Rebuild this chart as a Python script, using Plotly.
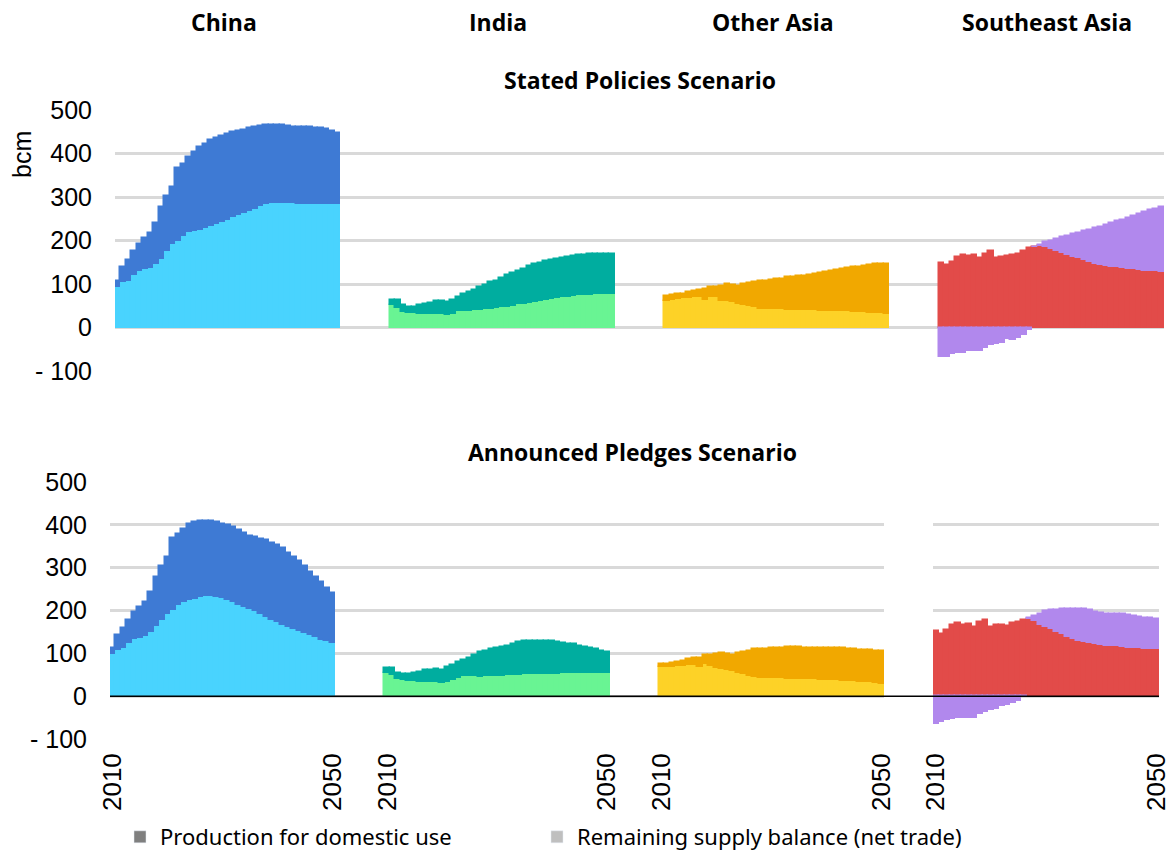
import plotly.graph_objects as go

W, H = 1175, 855

years = list(range(2010, 2051))
regions = ["China", "India", "Other Asia", "Southeast Asia"]

# Stated Policies Scenario (bcm)
china_prod_steps = [94, 104, 108, 120, 131, 134, 137, 147, 158, 175, 191, 199, 211, 220, 222, 225, 229, 233, 237, 243, 248,
                    253, 258, 263, 268, 273, 279, 283, 286, 286, 286, 286, 286, 285, 285, 285, 285, 284, 284, 284, 284]
china_trade_steps = [14, 35, 48, 56, 62, 72, 81, 94, 119, 127, 132, 168, 166, 172, 182, 189, 194, 198, 199, 198, 197,
                     196, 194, 192, 190, 187, 184, 182, 180, 179, 179, 177, 176, 176, 176, 175, 174, 174, 172, 168, 162]
india_prod_steps = [51, 45, 35, 33, 33, 30, 30, 32, 32, 30, 28, 32, 37, 39, 39, 40, 40, 43, 43, 44, 46,
                    48, 50, 53, 55, 57, 59, 61, 63, 66, 68, 69, 71, 72, 74, 75, 75, 76, 76, 76, 76]
india_trade_steps = [13, 18, 17, 15, 15, 21, 24, 25, 28, 32, 30, 32, 33, 37, 42, 47, 53, 55, 61, 64, 68,
                     72, 75, 77, 80, 84, 86, 87, 89, 89, 90, 91, 91, 92, 92, 92, 93, 93, 94, 94, 94]
oasia_prod_steps = [62, 64, 65, 67, 68, 69, 70, 64, 70, 69, 62, 60, 58, 55, 52, 49, 47, 43, 43, 42, 42,
                    42, 41, 41, 41, 40, 40, 40, 39, 39, 38, 38, 37, 37, 36, 36, 35, 34, 34, 33, 32]
oasia_trade_steps = [10, 10, 11, 11, 13, 15, 17, 25, 23, 24, 33, 41, 39, 40, 47, 53, 58, 64, 65, 68, 69,
                     70, 74, 75, 77, 78, 81, 83, 86, 89, 92, 94, 97, 99, 102, 103, 107, 110, 111, 112, 114]
sea_prod_steps = [148, 143, 151, 163, 167, 165, 166, 160, 170, 176, 160, 162, 165, 166, 170, 176, 183, 185, 187, 185, 180,
                  176, 172, 166, 162, 159, 155, 151, 147, 143, 141, 140, 138, 137, 135, 134, 132, 131, 131, 129, 128]
sea_trade_steps = [-68, -67, -61, -59, -58, -55, -55, -54, -46, -41, -37, -35, -27, -29, -23, -18, -6, 0, 3, 11, 20,
                   28, 36, 45, 52, 59, 66, 74, 82, 89, 95, 100, 106, 111, 117, 122, 129, 134, 138, 144, 149]

# Announced Pledges Scenario (bcm)
china_prod_aps = [98, 108, 112, 123, 133, 136, 140, 149, 164, 177, 193, 202, 213, 221, 225, 228, 232, 235, 233, 231, 229,
                  224, 219, 213, 208, 203, 199, 192, 184, 177, 172, 167, 162, 157, 152, 147, 142, 137, 132, 128, 123]
china_trade_aps = [14, 35, 47, 55, 63, 73, 80, 94, 114, 128, 132, 167, 165, 170, 177, 179, 178, 175, 175, 176, 174,
                   175, 176, 176, 173, 171, 172, 176, 181, 180, 181, 179, 172, 167, 163, 156, 148, 141, 134, 125, 117]
india_prod_aps = [53, 49, 41, 38, 36, 36, 33, 33, 34, 34, 30, 33, 38, 43, 46, 46, 46, 45, 47, 48, 48,
                  48, 49, 50, 50, 51, 51, 51, 52, 52, 52, 52, 53, 53, 54, 54, 54, 55, 55, 55, 55]
india_trade_aps = [12, 16, 14, 13, 15, 17, 24, 27, 28, 30, 31, 34, 34, 37, 39, 44, 50, 57, 58, 61, 65,
                   67, 69, 72, 76, 77, 78, 78, 77, 77, 76, 75, 72, 69, 67, 64, 61, 58, 54, 50, 48]
oasia_prod_aps = [67, 68, 69, 70, 71, 72, 73, 67, 74, 71, 65, 64, 62, 59, 55, 52, 48, 45, 43, 43, 42,
                  42, 42, 41, 41, 41, 40, 40, 39, 38, 38, 37, 37, 36, 35, 35, 34, 33, 32, 31, 29]
oasia_trade_aps = [7, 8, 9, 10, 12, 14, 15, 23, 21, 25, 33, 37, 37, 37, 46, 52, 57, 64, 68, 68, 70,
                   70, 71, 73, 73, 73, 73, 73, 73, 74, 74, 76, 76, 76, 75, 74, 74, 75, 75, 74, 76]
sea_prod_aps = [152, 146, 154, 166, 170, 167, 169, 162, 173, 177, 162, 165, 165, 163, 171, 174, 178, 181, 175, 167, 161,
                156, 150, 144, 139, 133, 129, 126, 123, 121, 119, 118, 117, 116, 115, 113, 113, 112, 111, 111, 111]
sea_trade_aps = [-64, -61, -56, -54, -52, -51, -50, -50, -42, -36, -33, -29, -23, -20, -16, -11, -3, 2, 12, 25, 37,
                 45, 52, 60, 65, 71, 75, 77, 79, 76, 76, 75, 75, 75, 76, 77, 75, 73, 72, 71, 70]

prod_colors = ["#49D3FE", "#69F493", "#FDD227", "#E24B49"]
trade_colors = ["#3E7AD4", "#00AD9F", "#F1A800", "#B188ED"]

y_ticks = [-100, 0, 100, 200, 300, 400, 500]
y_ticktext = ["- 100", "0", "100", "200", "300", "400", "500"]

legend_names = ["Production for domestic use", "Remaining supply balance (net trade)"]
legend_colors = ["#7F7F7F", "#BFBFBF"]

GAP = 9                    # empty slots between regional blocks
BLOCK = len(years) + GAP   # slot pitch of one region

GRID = "#D9D9D9"
TICK_FONT = dict(family="Liberation Sans, Arial, sans-serif", size=25, color="#000000")
BOLD_FONT = dict(family="Open Sans, sans-serif", size=23, color="#000000")
LEGEND_FONT = dict(family="Noto Sans, sans-serif", size=22, color="#000000")


def px_x(p):
    return p / W


def px_y(p):
    return 1 - p / H


steps = [(china_prod_steps, china_trade_steps), (india_prod_steps, india_trade_steps),
         (oasia_prod_steps, oasia_trade_steps), (sea_prod_steps, sea_trade_steps)]
aps = [(china_prod_aps, china_trade_aps), (india_prod_aps, india_trade_aps),
       (oasia_prod_aps, oasia_trade_aps), (sea_prod_aps, sea_trade_aps)]

fig = go.Figure()


def add_region(prod, trade, r, offset, xa, ya):
    xs = [offset + i for i in range(len(years))]
    for vals, col in ((prod, prod_colors[r]), (trade, trade_colors[r])):
        fig.add_trace(go.Bar(
            x=xs, y=vals, xaxis=xa, yaxis=ya, width=1.0,
            marker=dict(color=col, line=dict(color=col, width=1.5)),
            showlegend=False, hoverinfo="skip",
        ))


# top row: one shared axis for all four regions
for r, (p, t) in enumerate(steps):
    add_region(p, t, r, r * BLOCK, "x", "y")

# bottom row: China, India, Other Asia on one axis, Southeast Asia on its own
for r, (p, t) in enumerate(aps[:3]):
    add_region(p, t, r, r * BLOCK, "x2", "y2")
add_region(aps[3][0], aps[3][1], 3, 0, "x3", "y3")

# legend entries, each in its own legend box
for k, (name, col) in enumerate(zip(legend_names, legend_colors)):
    fig.add_trace(go.Bar(x=[None], y=[None], name=name, marker=dict(color=col),
                         xaxis="x", yaxis="y", legend="legend" if k == 0 else "legend2"))

n = len(years)
top_range = [-0.5, 3 * BLOCK + n - 0.5]
bl_range = [-0.5, 2 * BLOCK + n - 0.5]
br_range = [-0.5, n - 0.5]

yaxis_common = dict(range=[-100, 500], tickvals=y_ticks, ticktext=y_ticktext, tickfont=TICK_FONT,
                    showgrid=True, gridcolor=GRID, gridwidth=2.5, zeroline=False, showline=False,
                    ticks="", ticklabelstandoff=22, fixedrange=True, automargin=False)

bl_tickvals, bl_ticktext = [], []
for r in range(3):
    bl_tickvals += [r * BLOCK, r * BLOCK + n - 1]
    bl_ticktext += [str(years[0]), str(years[-1])]

legend_common = dict(orientation="h", xanchor="left", y=px_y(837), yanchor="middle",
                     font=LEGEND_FONT, bgcolor="rgba(0,0,0,0)")

fig.update_layout(
    width=W, height=H,
    margin=dict(l=0, r=0, t=0, b=0, autoexpand=False),
    paper_bgcolor="white", plot_bgcolor="white",
    barmode="relative", bargap=0,
    xaxis=dict(domain=[px_x(115), px_x(1164)], range=top_range, anchor="y",
               showticklabels=False, showgrid=False, zeroline=False, ticks="", automargin=False),
    yaxis=dict(domain=[px_y(371), px_y(110)], anchor="x", **yaxis_common),
    xaxis2=dict(domain=[px_x(110), px_x(884)], range=bl_range, anchor="y2",
                tickvals=bl_tickvals, ticktext=bl_ticktext, tickangle=-90, tickfont=dict(TICK_FONT, size=26),
                showgrid=False, zeroline=False, ticks="", ticklabelstandoff=8, automargin=False),
    yaxis2=dict(domain=[px_y(739), px_y(482)], anchor="x2", **yaxis_common),
    xaxis3=dict(domain=[px_x(933), px_x(1159)], range=br_range, anchor="y3",
                tickvals=[0, n - 1], ticktext=[str(years[0]), str(years[-1])], tickangle=-90,
                tickfont=dict(TICK_FONT, size=26),
                showgrid=False, zeroline=False, ticks="", ticklabelstandoff=8, automargin=False),
    yaxis3=dict(domain=[px_y(739), px_y(482)], anchor="x3",
                **{**yaxis_common, "showticklabels": False}),
    legend=dict(x=px_x(120), **legend_common),
    legend2=dict(x=px_x(537), **legend_common),
    showlegend=True,
)

# black zero line across the whole bottom row
fig.add_shape(type="line", xref="paper", x0=px_x(110), x1=px_x(1159), yref="y2", y0=0, y1=0,
              line=dict(color="#000000", width=1.5), layer="above")

annotations = []
for r, name in enumerate(regions):
    annotations.append(dict(x=r * BLOCK + (n - 1) / 2, xref="x", y=px_y(22), yref="paper", xshift=-4,
                            text=f"<b>{name}</b>", showarrow=False, font=BOLD_FONT,
                            xanchor="center", yanchor="middle"))
annotations.append(dict(x=(top_range[0] + top_range[1]) / 2, xref="x", y=px_y(80), yref="paper",
                        text="<b>Stated Policies Scenario</b>", showarrow=False, font=BOLD_FONT,
                        xanchor="center", yanchor="middle"))
annotations.append(dict(x=px_x(632), xref="paper", y=px_y(452), yref="paper",
                        text="<b>Announced Pledges Scenario</b>", showarrow=False, font=BOLD_FONT,
                        xanchor="center", yanchor="middle"))
annotations.append(dict(x=px_x(22), xref="paper", y=px_y(155), yref="paper", text="bcm", textangle=-90,
                        showarrow=False, font=TICK_FONT, xanchor="center", yanchor="middle"))
fig.update_layout(annotations=annotations)

fig.write_html("out.html")
